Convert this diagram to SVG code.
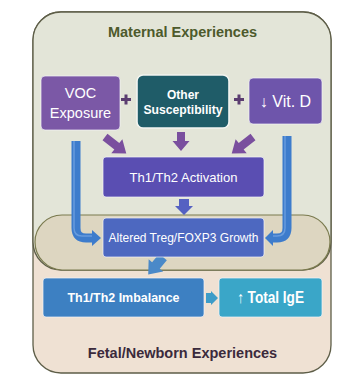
<svg xmlns="http://www.w3.org/2000/svg" width="361" height="383" viewBox="0 0 361 383">
<style>
.t{font-family:"Liberation Sans",Arial,sans-serif;fill:#fff;text-anchor:middle}
.b{font-weight:bold}
.h{font-family:"Liberation Sans",Arial,sans-serif;font-weight:bold;font-size:14.5px;text-anchor:middle}
.node{stroke:#f4f4f8;stroke-opacity:0.7;stroke-width:1}
.pa{fill:#7a4f9e}
.ba{fill:#3d7ccc}
</style>
<rect width="361" height="383" fill="#ffffff"/>
<g id="containers">
<rect id="outer" x="33" y="12" width="298" height="361" rx="28" fill="#efe1d3" stroke="#5e5e48" stroke-width="1.3"/>
<path id="maternal" d="M61,12 H303 A28,28 0 0 1 331,40 V242 A28,28 0 0 1 303,270 H61 A28,28 0 0 1 33,242 V40 A28,28 0 0 1 61,12 Z" fill="#e3e5d8" stroke="#5e5e48" stroke-width="1.3"/>
<path id="overlap" d="M62,215 H303 A27,27 0 0 1 330,242 A28,28 0 0 1 302,270 H62 A28,28 0 0 1 35,242 A27,27 0 0 1 62,215 Z" fill="#ddd6c1" stroke="#7a7a4e" stroke-width="1.2"/>
<text class="h" x="182.5" y="37" fill="#4d5a2c">Maternal Experiences</text>
<text class="h" x="182.5" y="358" fill="#3b2a3c">Fetal/Newborn Experiences</text>
</g>
<g id="connectors">
<polygon class="pa" transform="translate(105,137) rotate(38)" points="0,-4 15,-4 15,-9 27,0 15,9 15,4 0,4"/>
<polygon class="pa" transform="translate(181,132) rotate(90)" points="0,-4 9,-4 9,-8.5 19,0 9,8.5 9,4 0,4"/>
<polygon class="pa" transform="translate(253,137) rotate(142)" points="0,-4 15,-4 15,-9 27,0 15,9 15,4 0,4"/>
<polygon fill="#5561c2" transform="translate(184,199) rotate(90)" points="0,-5 7,-5 7,-9 16,0 7,9 7,5 0,5"/>
<path d="M76,141 V228 Q76,238 86,238 H93" fill="none" stroke="#3d7ccc" stroke-width="9"/>
<path d="M74,141 V228 Q74,236 82,236 H93" fill="none" stroke="#78a8e4" stroke-width="1.5" stroke-opacity="0.7"/>
<polygon class="ba" points="92,230 101,238 92,246"/>
<path d="M287,136 V228 Q287,238 277,238 H272" fill="none" stroke="#3d7ccc" stroke-width="9"/>
<path d="M285,136 V228 Q285,236 277,236 H272" fill="none" stroke="#78a8e4" stroke-width="1.5" stroke-opacity="0.7"/>
<polygon class="ba" points="273,230 265,238 273,246"/>
<polygon fill="#4a89c8" transform="translate(163,257) rotate(130)" points="0,-5 11,-5 11,-9.5 23,0 11,9.5 11,5 0,5"/>
<polygon fill="#3d9cc8" transform="translate(206,298)" points="0,-5 5,-5 5,-7 12,0 5,7 5,5 0,5"/>
</g>
<g id="plus" fill="#5b3d70">
<path d="M121,98 h3.5 v-3.5 h3 v3.5 h3.5 v3 h-3.5 v3.5 h-3 v-3.5 h-3.5 Z"/>
<path d="M234,98 h3.5 v-3.5 h3 v3.5 h3.5 v3 h-3.5 v3.5 h-3 v-3.5 h-3.5 Z"/>
</g>
<g id="voc">
<rect class="node" x="41" y="76" width="79" height="54" rx="4" fill="#7b58a6"/>
<text class="t" x="80.5" y="98" font-size="14.5">VOC</text>
<text class="t" x="80.5" y="118" font-size="14.5">Exposure</text>
</g>
<g id="other">
<rect x="137" y="75" width="92" height="53" rx="6" fill="#1f5c68" stroke="#f2f4f0" stroke-width="1.6"/>
<text class="t b" x="183" y="99" font-size="12">Other</text>
<text class="t b" x="183" y="114" font-size="12" textLength="79" lengthAdjust="spacingAndGlyphs">Susceptibility</text>
</g>
<g id="vitd">
<rect class="node" x="249" y="78" width="73" height="46" rx="4" fill="#6e55ab"/>
<text class="t" x="285.5" y="107" font-size="16">↓ Vit. D</text>
</g>
<g id="activation">
<rect class="node" x="103" y="157" width="161" height="40" rx="3" fill="#5a4eb2"/>
<text class="t" x="183.5" y="182" font-size="13.5" textLength="108" lengthAdjust="spacingAndGlyphs">Th1/Th2 Activation</text>
</g>
<g id="treg">
<rect class="node" x="103" y="218" width="161" height="39" rx="3" fill="#4d68c0"/>
<text class="t" x="183.5" y="242" font-size="12.5" textLength="150" lengthAdjust="spacingAndGlyphs">Altered Treg/FOXP3 Growth</text>
</g>
<g id="imbalance">
<rect class="node" x="43" y="278" width="161" height="39" rx="3" fill="#3d80c2"/>
<text class="t b" x="123.5" y="302" font-size="13" textLength="112" lengthAdjust="spacingAndGlyphs">Th1/Th2 Imbalance</text>
</g>
<g id="ige">
<rect class="node" x="219" y="278" width="103" height="39" rx="3" fill="#3aa6c8"/>
<text class="t b" x="270.5" y="303" font-size="16" textLength="67" lengthAdjust="spacingAndGlyphs">↑ Total IgE</text>
</g>
</svg>
